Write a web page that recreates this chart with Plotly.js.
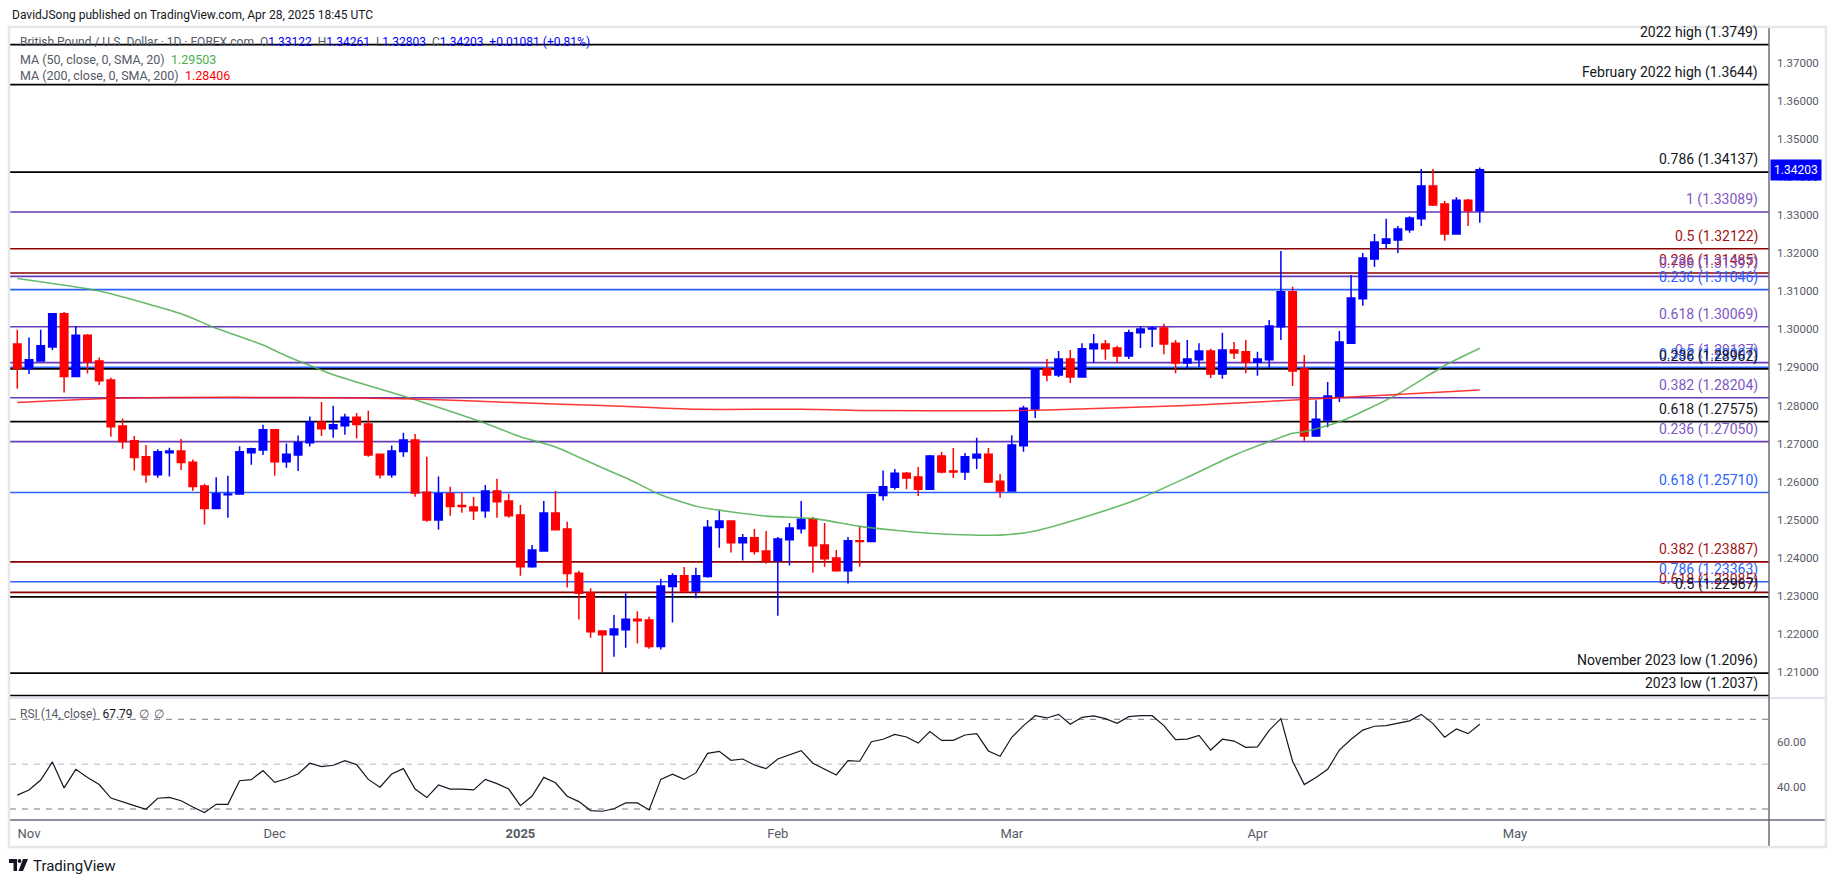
<!DOCTYPE html>
<html><head><meta charset="utf-8">
<script src="https://cdn.plot.ly/plotly-3.0.1.min.js"></script>
<style>html,body{margin:0;padding:0;background:#fff;}#chart{width:1835px;height:883px;}</style>
</head><body><div id="chart"></div>
<script>
// ---------------- DATA ----------------
const dates = [
'2024-10-31',
'2024-11-01','2024-11-04','2024-11-05','2024-11-06','2024-11-07','2024-11-08','2024-11-11','2024-11-12','2024-11-13','2024-11-14','2024-11-15',
'2024-11-18','2024-11-19','2024-11-20','2024-11-21','2024-11-22','2024-11-25','2024-11-26','2024-11-27','2024-11-28','2024-11-29',
'2024-12-02','2024-12-03','2024-12-04','2024-12-05','2024-12-06','2024-12-09','2024-12-10','2024-12-11','2024-12-12','2024-12-13',
'2024-12-16','2024-12-17','2024-12-18','2024-12-19','2024-12-20','2024-12-23','2024-12-24','2024-12-26','2024-12-27','2024-12-30','2024-12-31',
'2025-01-02','2025-01-03','2025-01-06','2025-01-07','2025-01-08','2025-01-09','2025-01-10','2025-01-13','2025-01-14','2025-01-15','2025-01-16','2025-01-17',
'2025-01-20','2025-01-21','2025-01-22','2025-01-23','2025-01-24','2025-01-27','2025-01-28','2025-01-29','2025-01-30','2025-01-31',
'2025-02-03','2025-02-04','2025-02-05','2025-02-06','2025-02-07','2025-02-10','2025-02-11','2025-02-12','2025-02-13','2025-02-14',
'2025-02-17','2025-02-18','2025-02-19','2025-02-20','2025-02-21','2025-02-24','2025-02-25','2025-02-26','2025-02-27','2025-02-28',
'2025-03-03','2025-03-04','2025-03-05','2025-03-06','2025-03-07','2025-03-10','2025-03-11','2025-03-12','2025-03-13','2025-03-14',
'2025-03-17','2025-03-18','2025-03-19','2025-03-20','2025-03-21','2025-03-24','2025-03-25','2025-03-26','2025-03-27','2025-03-28','2025-03-31',
'2025-04-01','2025-04-02','2025-04-03','2025-04-04','2025-04-07','2025-04-08','2025-04-09','2025-04-10','2025-04-11',
'2025-04-14','2025-04-15','2025-04-16','2025-04-17','2025-04-18','2025-04-21','2025-04-22','2025-04-23','2025-04-24','2025-04-25','2025-04-28'];

const open = [1.2962,
1.2897,1.2917,1.2954,1.3041,1.2876,1.2985,1.2917,1.2867,1.2746,1.2707,1.2665,
1.2618,1.2676,1.2680,1.2651,1.2588,1.2529,1.2565,1.2567,1.2676,1.2683,
1.2736,1.2652,1.2670,1.2702,1.2756,1.2739,1.2747,1.2769,1.2751,1.2672,
1.2618,1.2679,1.2709,1.2572,1.2499,1.2568,1.2537,1.2533,1.2523,1.2575,1.2549,
1.2512,1.2376,1.2417,1.2517,1.2475,1.2359,1.2306,1.2207,1.2197,1.2210,1.2238,1.2236,
1.2166,1.2324,1.2352,1.2312,1.2350,1.2479,1.2496,1.2439,1.2452,1.2417,
1.2392,1.2447,1.2476,1.2501,1.2433,1.2399,1.2365,1.2444,1.2442,1.2563,
1.2585,1.2622,1.2612,1.2580,1.2667,1.2628,1.2625,1.2662,1.2672,1.2601,
1.2575,1.2694,1.2791,1.2896,1.2880,1.2922,1.2875,1.2949,1.2962,1.2951,
1.2930,1.2991,1.3001,1.3004,1.2964,1.2912,1.2920,1.2943,1.2883,1.2946,1.2941,
1.2914,1.2920,1.3007,1.3099,1.2896,1.2720,1.2762,1.2822,1.2964,
1.3081,1.3185,1.3227,1.3235,1.3262,1.3291,1.3377,1.3330,1.3251,1.3340,1.33122];

const high = [1.2999,
1.2979,1.2999,1.3042,1.3046,1.3009,1.2988,1.2926,1.2873,1.2766,1.2720,1.2696,
1.2685,1.2689,1.2712,1.2658,1.2594,1.2611,1.2615,1.2693,1.2689,1.2749,
1.2737,1.2700,1.2721,1.2771,1.2809,1.2799,1.2778,1.2780,1.2786,1.2673,
1.2695,1.2728,1.2725,1.2665,1.2613,1.2586,1.2572,1.2559,1.2591,1.2607,1.2568,
1.2538,1.2433,1.2549,1.2575,1.2494,1.2365,1.2319,1.2208,1.2249,1.2306,1.2259,1.2244,
1.2344,1.2359,1.2375,1.2373,1.2499,1.2523,1.2497,1.2462,1.2475,1.2470,
1.2454,1.2491,1.2549,1.2507,1.2491,1.2420,1.2454,1.2483,1.2567,1.2629,
1.2633,1.2625,1.2638,1.2670,1.2678,1.2688,1.2675,1.2715,1.2688,1.2620,
1.2722,1.2799,1.2899,1.2922,1.2943,1.2946,1.2964,1.2988,1.2972,1.2957,
1.2999,1.3009,1.3009,1.3015,1.2972,1.2972,1.2964,1.2949,1.2991,1.2967,1.2972,
1.2941,1.3025,1.3206,1.3112,1.2933,1.2814,1.2862,1.2996,1.3143,
1.3201,1.3251,1.3291,1.3272,1.3298,1.3422,1.3422,1.3338,1.3348,1.3343,1.34261];

const low = [1.2844,
1.2883,1.2915,1.2946,1.2834,1.2874,1.2884,1.2854,1.2718,1.2686,1.2629,1.2597,
1.2610,1.2613,1.2630,1.2576,1.2487,1.2528,1.2505,1.2566,1.2644,1.2670,
1.2615,1.2636,1.2628,1.2692,1.2720,1.2715,1.2723,1.2713,1.2665,1.2608,
1.2610,1.2665,1.2560,1.2494,1.2473,1.2510,1.2518,1.2499,1.2505,1.2505,1.2505,
1.2352,1.2373,1.2417,1.2472,1.2321,1.2237,1.2189,1.2097,1.2139,1.2163,1.2174,1.2160,
1.2158,1.2229,1.2306,1.2293,1.2347,1.2426,1.2413,1.2392,1.2408,1.2384,
1.2247,1.2379,1.2463,1.2360,1.2376,1.2363,1.2332,1.2376,1.2440,1.2550,
1.2579,1.2580,1.2562,1.2578,1.2622,1.2609,1.2604,1.2633,1.2596,1.2557,
1.2574,1.2678,1.2767,1.2864,1.2875,1.2859,1.2873,1.2912,1.2920,1.2912,
1.2922,1.2951,1.2954,1.2935,1.2885,1.2896,1.2901,1.2872,1.2870,1.2922,1.2885,
1.2878,1.2899,1.2972,1.2851,1.2707,1.2717,1.2743,1.2809,1.2964,
1.3062,1.3164,1.3212,1.3201,1.3254,1.3272,1.3325,1.3233,1.3250,1.3272,1.32803];

const close = [1.2897,
1.2920,1.2957,1.3041,1.2876,1.2985,1.2915,1.2865,1.2744,1.2705,1.2663,1.2618,
1.2678,1.2680,1.2650,1.2587,1.2529,1.2568,1.2567,1.2678,1.2686,1.2736,
1.2652,1.2672,1.2702,1.2756,1.2739,1.2749,1.2769,1.2750,1.2670,1.2618,
1.2680,1.2709,1.2570,1.2499,1.2568,1.2534,1.2534,1.2523,1.2575,1.2547,1.2510,
1.2376,1.2420,1.2517,1.2473,1.2358,1.2306,1.2205,1.2197,1.2212,1.2238,1.2234,1.2166,
1.2325,1.2352,1.2312,1.2352,1.2480,1.2496,1.2439,1.2452,1.2416,1.2392,
1.2449,1.2478,1.2501,1.2431,1.2397,1.2365,1.2444,1.2442,1.2565,1.2586,
1.2622,1.2609,1.2580,1.2667,1.2625,1.2625,1.2665,1.2672,1.2599,1.2575,
1.2696,1.2793,1.2896,1.2880,1.2922,1.2875,1.2949,1.2962,1.2949,1.2930,
1.2991,1.3001,1.3004,1.2962,1.2912,1.2922,1.2943,1.2883,1.2946,1.2938,1.2914,
1.2922,1.3009,1.3099,1.2891,1.2720,1.2764,1.2825,1.2967,1.3083,
1.3188,1.3230,1.3238,1.3264,1.3293,1.3377,1.3327,1.3251,1.3340,1.3312,1.34203];

const rsi = [36.2,
38.5,42.9,51.0,39.4,47.7,44.0,40.9,34.9,33.1,31.5,29.9,
34.8,35.2,33.7,30.9,28.4,32.1,32.1,42.6,43.1,47.1,
41.9,43.5,45.6,50.4,48.9,49.5,51.6,49.8,43.2,39.7,
45.6,48.0,38.9,35.1,40.7,38.9,38.9,38.5,43.2,41.3,38.9,
31.5,35.8,44.1,41.7,35.7,33.3,29.3,29.0,30.1,32.7,32.7,29.6,
43.2,45.5,43.2,46.1,54.8,55.7,51.7,52.3,49.6,48.0,
52.3,54.2,56.0,50.4,47.8,45.2,51.6,51.3,60.0,61.1,
63.3,62.1,59.4,64.5,60.6,60.6,63.0,63.6,55.9,53.5,
62.0,67.2,71.6,70.6,72.2,67.8,70.9,71.5,70.3,68.2,
71.2,71.6,71.6,67.2,60.9,61.2,62.8,56.3,61.1,60.3,57.5,
57.7,65.1,70.3,51.3,40.9,44.1,47.7,56.3,61.1,
65.2,66.9,67.2,68.2,69.3,72.2,68.1,62.0,65.7,63.6,67.79];

const ma50Dates = ['2024-10-31','2024-11-08','2024-11-12','2024-11-20','2024-11-25','2024-11-29','2024-12-03','2024-12-06','2024-12-09','2024-12-18','2024-12-27',
'2025-01-02','2025-01-07','2025-01-13','2025-01-15','2025-01-20','2025-01-23','2025-01-31','2025-02-06','2025-02-12','2025-02-17','2025-02-21','2025-02-28',
'2025-03-05','2025-03-12','2025-03-18','2025-03-24','2025-03-28','2025-04-02','2025-04-04','2025-04-07','2025-04-10','2025-04-17','2025-04-23','2025-04-28'];
const ma50 = [1.3134,1.3107,1.3094,1.3041,1.3003,1.2959,1.2930,1.2893,1.2881,1.2815,1.2753,
1.2718,1.2691,1.2636,1.2610,1.2565,1.2535,1.2509,1.2503,1.2482,1.2472,1.2462,1.2459,
1.2470,1.2514,1.2556,1.2611,1.2669,1.2705,1.2727,1.2731,1.2757,1.2830,1.2905,1.29503];

const ma200Dates = ['2024-10-31','2024-11-11','2024-11-19','2024-12-04','2024-12-18','2025-01-02','2025-01-13','2025-01-23','2025-02-05','2025-02-12','2025-02-28','2025-03-06','2025-03-24','2025-04-09','2025-04-28'];
const ma200 = [1.2808,1.2818,1.2821,1.2821,1.2817,1.2807,1.2800,1.2790,1.2790,1.2787,1.2786,1.2788,1.2800,1.2819,1.28406];

const levelPrices = [1.3749,1.3644,1.34137,1.33089,1.32122,1.31485,1.31397,1.31046,1.30069,1.29127,1.29007,1.28962,1.28204,1.27575,1.27050,1.25710,1.23887,1.23363,1.23085,1.22967,1.2096,1.2037];
const levelLabels = ['2022 high (1.3749)','February 2022 high (1.3644)','0.786 (1.34137)','1 (1.33089)','0.5 (1.32122)','0.236 (1.31485)','0.786 (1.31397)','0.236 (1.31046)','0.618 (1.30069)','0.5 (1.29127)','0.382 (1.29007)','0.236 (1.28962)','0.382 (1.28204)','0.618 (1.27575)','0.236 (1.27050)','0.618 (1.25710)','0.382 (1.23887)','0.786 (1.23363)','0.618 (1.23085)','0.5 (1.22967)','November 2023 low (1.2096)','2023 low (1.2037)'];
const levelSets = ['black','black','black','purple','red','red','purple','blue','purple','purple','blue','black','purple','black','purple','blue','red','blue','red','black','black','black'];

const priceTicks = [1.21,1.22,1.23,1.24,1.25,1.26,1.27,1.28,1.29,1.30,1.31,1.32,1.33,1.34,1.35,1.36,1.37];
const rsiTicks = [40,60];
const rsiLevels = [70,50,30];
const monthTickDates = ['2024-11-01','2024-12-02','2025-01-02','2025-02-03','2025-03-03','2025-04-01','2025-05-01'];
const monthTickLabels = ['Nov','Dec','<b>2025</b>','Feb','Mar','Apr','May'];

const lastBar = {o:1.33122,h:1.34261,l:1.32803,c:1.34203,chg:'+0.01081 (+0.81%)'};

// ---------------- HELPERS ----------------
function barIndex(d){
  const k = dates.indexOf(d);
  if (k >= 0) return k;
  let t = new Date(dates[dates.length-1]+'T00:00:00Z'); const target = new Date(d+'T00:00:00Z');
  let n = dates.length-1;
  while (t < target){ t = new Date(t.getTime()+86400000); const wd=t.getUTCDay(); if (wd!==0 && wd!==6) n++; }
  return n;
}
const W=1835,H=883,ML=10,MR=66,MT=27,MB=63;
const PW=W-ML-MR, PH=H-MT-MB;
const px = x => (x-ML)/PW;
const py = y => (H-MB-y)/PH;

const setLine = {black:'#000000', purple:'#673ab7', red:'#8b0000', blue:'#2962ff'};
const setText = {black:'#131722', purple:'#7e57c2', red:'#a31515', blue:'#2962ff'};

const idx = dates.map((d,i)=>i);
const FONT = 'Roboto, "Open Sans", sans-serif';

// ---------------- TRACES ----------------
const traces = [
  {type:'candlestick', x:idx, open:open, high:high, low:low, close:close, xaxis:'x2', yaxis:'y',
   increasing:{line:{color:'#0000ff',width:1.5}, fillcolor:'#0000ff'},
   decreasing:{line:{color:'#ff0000',width:1.5}, fillcolor:'#ff0000'},
   whiskerwidth:0, showlegend:false, hoverinfo:'skip'},
  {type:'scatter', mode:'lines', x:ma50Dates.map(barIndex), y:ma50, xaxis:'x2', yaxis:'y',
   line:{color:'rgba(76,175,80,0.85)', width:1.6, shape:'spline', smoothing:0.6}, showlegend:false, hoverinfo:'skip'},
  {type:'scatter', mode:'lines', x:ma200Dates.map(barIndex), y:ma200, xaxis:'x2', yaxis:'y',
   line:{color:'rgba(255,20,20,0.85)', width:1.5, shape:'spline', smoothing:0.6}, showlegend:false, hoverinfo:'skip'},
  {type:'scatter', mode:'lines', x:idx, y:rsi, xaxis:'x', yaxis:'y2',
   line:{color:'#131722', width:1.2}, showlegend:false, hoverinfo:'skip'}
];

// ---------------- SHAPES ----------------
const shapes = [];
levelPrices.forEach((p,i)=>{
  shapes.push({type:'line', xref:'paper', yref:'y', x0:0, x1:1, y0:p, y1:p, line:{color:setLine[levelSets[i]], width:1.6}, layer:'below'});
});
rsiLevels.forEach(v=>{
  shapes.push({type:'line', xref:'paper', yref:'y2', x0:0, x1:1, y0:v, y1:v,
    line:{color: v===50 ? '#b2b5be' : '#787b86', width:1, dash:'6px,6px'}, layer:'below'});
});
shapes.push({type:'line', xref:'paper', yref:'paper', x0:0, x1:px(1825), y0:py(698), y1:py(698), line:{color:'#e0e3eb', width:2}});
shapes.push({type:'line', xref:'paper', yref:'paper', x0:0, x1:px(1825), y0:py(820), y1:py(820), line:{color:'#6a6d78', width:1.5}});
shapes.push({type:'line', xref:'paper', yref:'paper', x0:1, x1:1, y0:py(847), y1:py(27), line:{color:'#6a6d78', width:1.5}});
shapes.push({type:'rect', xref:'paper', yref:'paper', x0:px(9), x1:px(1826), y0:py(847), y1:py(27), line:{color:'#e6e7eb', width:2.5}, fillcolor:'rgba(0,0,0,0)'});
// TradingView logo glyph
shapes.push({type:'path', xref:'paper', yref:'paper', fillcolor:'#131722', line:{width:0},
  path:`M ${px(9)} ${py(859)} L ${px(17)} ${py(859)} L ${px(17)} ${py(871)} L ${px(13.5)} ${py(871)} L ${px(13.5)} ${py(863)} L ${px(9)} ${py(863)} Z`});
shapes.push({type:'circle', xref:'paper', yref:'paper', fillcolor:'#131722', line:{width:0},
  x0:px(17.6), x1:px(21.4), y0:py(863), y1:py(859)});
shapes.push({type:'path', xref:'paper', yref:'paper', fillcolor:'#131722', line:{width:0},
  path:`M ${px(23)} ${py(859)} L ${px(28)} ${py(859)} L ${px(23)} ${py(871)} L ${px(18.5)} ${py(871)} Z`});

// ---------------- ANNOTATIONS ----------------
const ann = [];
levelPrices.forEach((p,i)=>{
  ann.push({xref:'paper', yref:'y', x:1, y:p, xanchor:'right', yanchor:'bottom', xshift:-9, yshift:2,
    text:levelLabels[i], showarrow:false, font:{size:14, color:setText[levelSets[i]], family:FONT}});
});
ann.push({xref:'paper', yref:'y', x:1, y:lastBar.c, xanchor:'left', yanchor:'middle', xshift:1,
  text:lastBar.c.toFixed(5), showarrow:false, bgcolor:'#0000ff', borderpad:3,
  font:{size:12, color:'#ffffff', family:FONT}});
const g = '#555a66', nb='\u00a0';
ann.push({xref:'paper', yref:'paper', x:px(10), y:py(15), xanchor:'left', yanchor:'middle', showarrow:false,
  text:'DavidJSong published on TradingView.com, Apr 28, 2025 18:45 UTC', font:{size:12, color:'#131722', family:FONT}});
const blue = v => `<span style="color:#0000ff">${v}</span>`;
ann.push({xref:'paper', yref:'paper', x:px(18), y:py(42), xanchor:'left', yanchor:'middle', showarrow:false,
  text:`British Pound / U.S. Dollar · 1D · FOREX.com${nb}${nb}O${blue(lastBar.o.toFixed(5))}${nb}${nb}H${blue(lastBar.h.toFixed(5))}${nb}${nb}L${blue(lastBar.l.toFixed(5))}${nb}${nb}C${blue(lastBar.c.toFixed(5))}${nb}${nb}${blue(lastBar.chg)}`,
  font:{size:12, color:g, family:FONT}});
ann.push({xref:'paper', yref:'paper', x:px(18), y:py(59), xanchor:'left', yanchor:'middle', showarrow:false,
  text:`MA (50, close, 0, SMA, 20)${nb}${nb}<span style="color:#4caf50">${ma50[ma50.length-1].toFixed(5)}</span>`, font:{size:12.5, color:g, family:FONT}});
ann.push({xref:'paper', yref:'paper', x:px(18), y:py(75), xanchor:'left', yanchor:'middle', showarrow:false,
  text:`MA (200, close, 0, SMA, 200)${nb}${nb}<span style="color:#ff0000">${ma200[ma200.length-1].toFixed(5)}</span>`, font:{size:12.5, color:g, family:FONT}});
ann.push({xref:'paper', yref:'paper', x:px(18), y:py(714), xanchor:'left', yanchor:'middle', showarrow:false,
  text:`RSI (14, close)${nb}${nb}<span style="color:#131722">${rsi[rsi.length-1].toFixed(2)}</span>${nb}${nb}∅${nb}${nb}∅`, font:{size:12, color:g, family:FONT}});
ann.push({xref:'paper', yref:'paper', x:px(31), y:py(865.5), xanchor:'left', yanchor:'middle', showarrow:false,
  text:'TradingView', font:{size:15, color:'#131722', family:FONT}});

// ---------------- LAYOUT ----------------
const split = (H-MB-698)/PH;
const layout = {
  width:W, height:H, margin:{l:ML, r:MR, t:MT, b:MB, pad:0},
  paper_bgcolor:'#ffffff', plot_bgcolor:'#ffffff',
  font:{family:FONT, color:'#555a66'},
  showlegend:false, boxgap:0.2, boxgroupgap:0.2,
  xaxis:{domain:[0,1], anchor:'y2', range:[-0.624,149.72], tickmode:'array',
    tickvals:monthTickDates.map(barIndex), ticktext:monthTickLabels,
    showgrid:false, zeroline:false, showline:false, ticks:'', ticklabelstandoff:4,
    tickfont:{size:13, color:'#555a66'}, fixedrange:true},
  xaxis2:{domain:[0,1], anchor:'y', matches:'x', showticklabels:false, showgrid:false, zeroline:false,
    showline:false, ticks:'', rangeslider:{visible:false}, fixedrange:true},
  yaxis:{domain:[split,1], range:[1.203062,1.379548], side:'right', tickmode:'array',
    tickvals:priceTicks, ticktext:priceTicks.map(v=>v.toFixed(5)),
    showgrid:false, zeroline:false, showline:false, ticks:'', ticklabelstandoff:7,
    tickfont:{size:11.5, color:'#555a66'}, fixedrange:true},
  yaxis2:{domain:[0,split], range:[25.1,79.5], side:'right', tickmode:'array',
    tickvals:rsiTicks, ticktext:rsiTicks.map(v=>v.toFixed(2)),
    showgrid:false, zeroline:false, showline:false, ticks:'', ticklabelstandoff:7,
    tickfont:{size:11.5, color:'#555a66'}, fixedrange:true},
  shapes:shapes, annotations:ann
};
Plotly.newPlot('chart', traces, layout, {displayModeBar:false, staticPlot:true});
</script>
</body></html>
